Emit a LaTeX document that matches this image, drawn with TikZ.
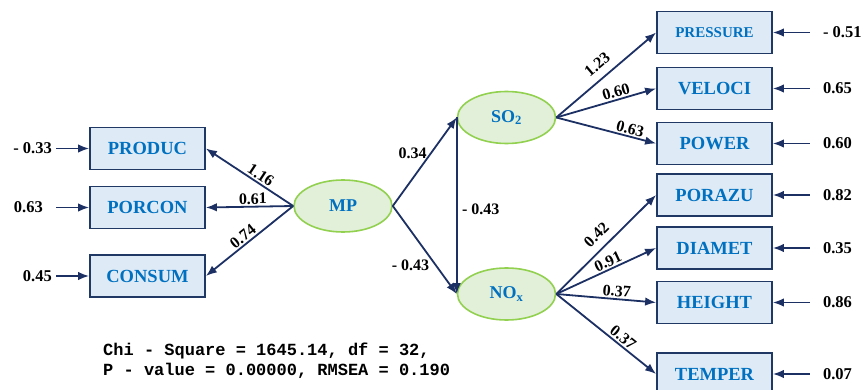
\documentclass[tikz,border=0pt]{standalone}
\usepackage{fontspec}
\setmainfont{Liberation Serif}
\setmonofont{Liberation Mono}
\usetikzlibrary{shapes.geometric,arrows.meta}
\definecolor{navy}{RGB}{28,48,100}
\definecolor{boxborder}{RGB}{31,56,100}
\definecolor{boxfill}{RGB}{222,235,247}
\definecolor{labelblue}{RGB}{0,112,192}
\definecolor{latgreen}{RGB}{146,208,80}
\definecolor{latfill}{RGB}{226,240,217}
\tikzset{
  obsbox/.style={draw=boxborder, fill=boxfill, line width=1.8pt, minimum width=115pt, minimum height=42pt, text=labelblue, font=\fontsize{18.5}{20}\selectfont\bfseries, inner sep=0pt},
  latent/.style={ellipse, draw=latgreen, fill=latfill, line width=1.6pt, minimum width=98pt, minimum height=52pt, text=labelblue, font=\fontsize{18}{20}\selectfont\bfseries, inner sep=0pt},
  pathedge/.style={draw=navy, line width=1.8pt, -{Latex[length=11pt,width=8.5pt]}},
  coef/.style={font=\fontsize{16}{18}\selectfont\bfseries, text=black, inner sep=1.5pt},
  errlab/.style={font=\fontsize{16.5}{18}\selectfont\bfseries, text=black, inner sep=0pt},
  fitlab/.style={font=\fontsize{17}{20}\selectfont\ttfamily\bfseries, text=black, inner sep=0pt, anchor=base west}
}
\begin{document}
\begin{tikzpicture}[x=1pt,y=-1pt]
\useasboundingbox (0,0) rectangle (865,390);
\fill[white] (0,0) rectangle (865,390);

% left observed
\node[obsbox] (PRODUC) at (147.5,148.5) {PRODUC};
\node[obsbox] (PORCON) at (147.5,207.5) {PORCON};
\node[obsbox] (CONSUM) at (147.5,276) {CONSUM};

% latent
\node[latent] (MP) at (343,206) {MP};
\node[latent] (SO2) at (506.5,117.5) {SO\textsubscript{2}};
\node[latent] (NOX) at (506.5,294) {NO\textsubscript{x}};

% right observed
\node[obsbox, font=\fontsize{15}{17}\selectfont\bfseries] (PRESSURE) at (714.5,32.5) {PRESSURE};
\node[obsbox] (VELOCI) at (714.5,88.5) {VELOCI};
\node[obsbox] (POWER) at (714.5,143.5) {POWER};
\node[obsbox] (PORAZU) at (714.5,195) {PORAZU};
\node[obsbox] (DIAMET) at (714.5,248) {DIAMET};
\node[obsbox] (HEIGHT) at (714.5,302.5) {HEIGHT};
\node[obsbox] (TEMPER) at (714.5,374) {TEMPER};

% left error terms
\coordinate (eP) at (56,148.5);
\coordinate (eC) at (56,207.5);
\coordinate (eS) at (56,276);
\node[errlab, anchor=east] (lP) at (52,148.5) {- 0.33};
\node[errlab, anchor=east] (lC) at (43,207.5) {0.63};
\node[errlab, anchor=east] (lS) at (52,276) {0.45};
\draw[pathedge] (eP) -- (PRODUC.west);
\draw[pathedge] (eC) -- (PORCON.west);
\draw[pathedge] (eS) -- (CONSUM.west);

% right error terms
\foreach \n/\v in {PRESSURE/- 0.51, VELOCI/0.65, POWER/0.60, PORAZU/0.82, DIAMET/0.35, HEIGHT/0.86, TEMPER/0.07}{
  \coordinate (e\n) at ([xshift=37pt]\n.east);
  \node[errlab, anchor=west] (l\n) at ([xshift=50pt]\n.east) {\v};
  \draw[pathedge] (e\n) -- (\n.east);
}

% MP loadings
\draw[pathedge] (MP.west) -- node[coef, sloped, above, pos=0.42] {1.16} (PRODUC.east);
\draw[pathedge] (MP.west) -- node[coef, sloped, above, pos=0.46] {0.61} (PORCON.east);
\draw[pathedge] (MP.west) -- node[coef, sloped, above, pos=0.52] {0.74} (CONSUM.east);

% structural paths
\draw[pathedge] (MP.east) -- node[coef, left, pos=0.6, xshift=-2pt] {0.34} (SO2.west);
\draw[pathedge] (MP.east) -- node[coef, left, pos=0.67, xshift=-4pt] {- 0.43} (NOX.west);
\draw[pathedge] (SO2.west) -- node[coef, right, pos=0.52, xshift=3pt] {- 0.43} (NOX.west);

% SO2 loadings
\draw[pathedge] (SO2.east) -- node[coef, sloped, above=6pt, pos=0.5] {1.23} (PRESSURE.west);
\draw[pathedge] (SO2.east) -- node[coef, sloped, above, pos=0.62] {0.60} (VELOCI.west);
\draw[pathedge] (SO2.east) -- node[coef, sloped, above, pos=0.72] {0.63} (POWER.west);

% NOx loadings
\draw[pathedge] (NOX.east) -- node[coef, sloped, above=6pt, pos=0.5] {0.42} (PORAZU.west);
\draw[pathedge] (NOX.east) -- node[coef, sloped, above, pos=0.55] {0.91} (DIAMET.west);
\draw[pathedge] (NOX.east) -- node[coef, sloped, above, pos=0.6] {0.37} (HEIGHT.west);
\draw[pathedge] (NOX.east) -- node[coef, sloped, above, pos=0.62] {0.37} (TEMPER.west);

% fit statistics
\node[fitlab] (fit1) at (103,355) {Chi - Square = 1645.14, df = 32,};
\node[fitlab] (fit2) at (103,375) {P - value = 0.00000, RMSEA = 0.190};
\end{tikzpicture}
\end{document}
